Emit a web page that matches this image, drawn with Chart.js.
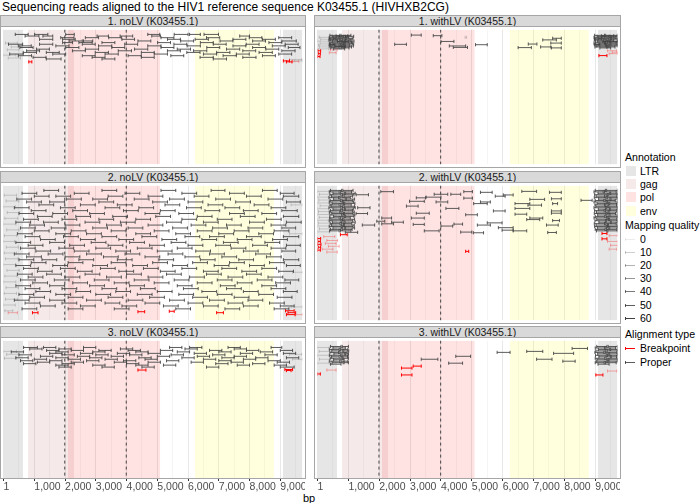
<!DOCTYPE html>
<html>
<head>
<meta charset="utf-8">
<script src="https://cdn.jsdelivr.net/npm/chart.js@4.4.1/dist/chart.umd.min.js"></script>
<style>
  body { margin: 0; width: 700px; height: 503px; position: relative; overflow: hidden; background: #fff;
         font-family: "Liberation Sans", Arial, sans-serif; }
  .abs { position: absolute; white-space: nowrap; }
  .strip { position: absolute; background: #d9d9d9; border: 1px solid #a6a6a6; box-sizing: border-box;
           font-size: 10.5px; line-height: 10px; text-align: center; color: #1a1a1a; }
  .frame { position: absolute; border: 1px solid #a6a6a6; box-sizing: border-box; pointer-events: none; }
  canvas { position: absolute; }
</style>
</head>
<body>
<div class="abs" style="left:2px;top:0px;font-size:12px;line-height:15px;color:#000">Sequencing reads aligned to the HIV1 reference sequence K03455.1 (HIVHXB2CG)</div>
<div class="abs" style="left:303px;top:491px;font-size:11px;line-height:14px;color:#000">bp</div>
<div id="legend"></div>
<script>
// ---- data ----
const panelNames = ["1. noLV (K03455.1)", "1. withLV (K03455.1)", "2. noLV (K03455.1)",
                    "2. withLV (K03455.1)", "3. noLV (K03455.1)", "3. withLV (K03455.1)"];
const xTickValues = [1, 1000, 2000, 3000, 4000, 5000, 6000, 7000, 8000, 9000];
const xTickLabels = ["1", "1,000", "2,000", "3,000", "4,000", "5,000", "6,000", "7,000", "8,000", "9,000"];
const xMinorValues = [500, 1500, 2500, 3500, 4500, 5500, 6500, 7500, 8500, 9500];
const annoNames = ["LTR", "gag", "pol", "env", "LTR"];
const annoStart = [1, 790, 2085, 6225, 9086];
const annoEnd = [634, 2292, 5096, 8795, 9719];
const markerPos = [1990, 3990];
const mqLevels = [0, 10, 20, 30, 40, 50, 60];
const alignTypes = ["Breakpoint", "Proper"];

// reads: [row, start1, end1, start2, end2, ...]
const noLV1 = [
  [5, 380,800, 1010,1440, 2020,2300, 4690,5080, 5550,6000, 6050,6400, 6520,6990],
  [6.7, 700,1150, 1280,1600, 3040,3410, 3790,4200, 4820,5100, 7680,8000],
  [8.4, 1860,2290, 2660,3090, 3420,3830, 5120,5540, 6600,7030, 7990,8400, 8950,9370],
  [10.1, 1170,1600, 1920,2330, 3850,4260, 5330,5750, 6230,6660, 7460,7880, 8420,8840],
  [11.8, 2130,2560, 2600,2900, 4370,4790, 5760,6180, 7040,7460, 8100,8520, 9050,9520],
  [13.5, 1920,2240, 2450,2880, 3200,3620, 5010,5430, 6400,6820, 8630,9050],
  [15.2, 160,620, 1170,1600, 2560,2980, 3940,4360, 5540,5960, 6820,7240, 7890,8310, 9160,9580],
  [16.9, 480,900, 1700,2130, 3090,3520, 4690,5120, 5970,6400, 7460,7880, 8740,9160],
  [18.6, 530,960, 2020,2450, 3520,3940, 5120,5540, 6610,7030, 8100,8520, 9260,9640],
  [20.3, 1070,1490, 2660,3090, 4260,4690, 5650,6080, 7250,7680, 8530,8950],
  [22, 750,1170, 2240,2660, 3730,4160, 5330,5750, 6180,6610, 7780,8200, 9050,9480],
  [23.7, 640,1070, 1390,1810, 2980,3410, 4480,4900, 5960,6390, 6930,7360, 8310,8740],
  [25.4, 200,640, 1600,2020, 3300,3730, 4900,5330, 6500,6930, 7570,7990, 8950,9370],
  [27.1, 480,910, 2560,2980, 4050,4480, 5440,5860, 7140,7570, 8420,8840],
  [28.8, 960,1380, 2880,3300, 4480,4900, 6390,6820, 7780,8210],
  [30.5, 1390,1870, 3200,3620, 6820,7250]
];
const noLV1Low = [[14, 60,450], [18, 250,600], [21, 120,500], [26.5, 0,400], [29.5, 150,550],
                  [31, 9300,9700], [32.5, 9450,9719]];
const noLV1Break = [[33.5, 820,920], [32.5, 9100,9300], [33.5, 9200,9380]];
const noLV1LowBreak = [[33, 9400,9600]];

const withLV1 = [
  [6, 400,720, 760,1080], [6.5, 600,980], [7, 470,850, 900,1170], [8, 380,690, 720,1010],
  [9, 520,900, 930,1150], [9.5, 380,600], [10, 410,760, 800,1120], [11, 370,640, 700,1060],
  [12, 480,880, 910,1180], [12.5, 650,1000], [13, 430,730, 780,1100], [14, 390,820, 850,1130],
  [15, 500,860, 890,1170], [15.5, 380,560], [16, 420,700, 740,1040], [17, 380,780, 820,1160],
  [17.5, 560,900], [18, 460,830, 870,1100], [19, 410,700, 760,1020], [20, 520,880],
  [5.7, 3040,3360], [6.3, 3750,4030], [15.3, 2500,2880], [12.3, 4000,4420], [17, 4270,4800],
  [18.5, 4400,4860], [15.7, 5120,5500], [10.7, 7300,7740], [9, 7620,7900], [14, 7560,7900],
  [15, 6830,7110], [18.7, 6500,6930], [18, 7230,7560], [19, 7580,7900],
  [6, 8980,9300, 9340,9719], [6.5, 9200,9600], [7, 9060,9450, 9480,9700], [8, 8960,9250, 9290,9650],
  [9, 9100,9500, 9530,9719], [9.5, 8980,9200], [10, 9000,9380, 9420,9719], [11, 8970,9280, 9320,9600],
  [12, 9080,9460, 9500,9719], [12.5, 9250,9719], [13, 9010,9350, 9400,9719], [14, 8960,9300, 9330,9680],
  [15, 9120,9480, 9510,9719], [15.5, 8970,9150], [16, 9000,9330, 9370,9719], [17, 9050,9420, 9450,9719],
  [18, 8990,9360, 9390,9640], [19, 9150,9500]
];
const withLV1Low = [[8, 50,380], [10, 100,400], [12, 0,350], [14, 80,400], [16, 30,370], [18, 60,420],
                    [20, 0,360], [8, 4780,4830]];
const withLV1Break = [[22, 10,100], [25, 20,90], [28, 0,80], [27, 9120,9380]];
const withLV1LowBreak = [[21, 420,640], [24, 380,600], [22, 9400,9700], [25, 9450,9719], [23.5, 9550,9719]];

const noLV2 = [
  [5, 1310,1790, 3200,3680, 5120,5600, 6750,7200, 8420,8900],
  [8, 600,1080, 2300,2780, 3950,4430, 5800,6280, 7350,7830, 9000,9450],
  [11, 1000,1480, 1700,2180, 3400,3880, 4700,5180, 6200,6680, 7900,8380, 9100,9600],
  [14, 430,910, 2050,2530, 2900,3380, 4250,4730, 5400,5880, 6900,7380, 8600,9080],
  [17, 750,1230, 1500,1980, 3100,3580, 4850,5330, 6000,6480, 7550,8030, 9200,9650],
  [20, 1150,1630, 2500,2980, 3700,4180, 5250,5730, 6650,7130, 8150,8630],
  [23, 350,830, 1850,2330, 3300,3780, 4400,4880, 5950,6430, 7200,7680, 8700,9180],
  [26, 900,1380, 2250,2730, 3900,4380, 5100,5580, 6550,7030, 7800,8280, 9050,9550],
  [29, 500,980, 1600,2080, 2800,3280, 4600,5080, 5700,6180, 7350,7830, 8400,8880],
  [32, 1100,1580, 2350,2830, 3550,4030, 4950,5430, 6300,6780, 7700,8180, 9100,9600],
  [35, 650,1130, 1900,2380, 3100,3580, 4300,4780, 5800,6280, 6950,7430, 8550,9030],
  [38, 400,880, 1300,1780, 2650,3130, 3800,4280, 5300,5780, 6500,6980, 8000,8480, 9200,9680],
  [41, 850,1330, 2000,2480, 3350,3830, 4700,5180, 6100,6580, 7250,7730, 8700,9180],
  [44, 550,1030, 1550,2030, 2900,3380, 4050,4530, 5500,5980, 6800,7280, 7950,8430, 9050,9500],
  [47, 1000,1480, 2200,2680, 3500,3980, 4900,5380, 6300,6780, 7500,7980, 8800,9280],
  [50, 450,930, 1700,2180, 2700,3180, 4300,4780, 5600,6080, 7000,7480, 8300,8780],
  [53, 700,1180, 1950,2430, 3200,3680, 4500,4980, 5900,6380, 6700,7180, 7900,8380, 9100,9600],
  [56, 1200,1680, 2500,2980, 3750,4230, 5150,5630, 6450,6930, 7600,8080, 8750,9230],
  [59, 400,880, 1500,1980, 2850,3330, 4100,4580, 5450,5930, 7150,7630, 8500,8980],
  [62, 800,1280, 2150,2630, 3400,3880, 4750,5230, 6000,6480, 6900,7380, 8100,8580, 9200,9650],
  [65, 550,1030, 1800,2280, 3000,3480, 4350,4830, 5650,6130, 7400,7880, 8700,9180],
  [68, 1050,1530, 2300,2780, 3650,4130, 5000,5480, 6250,6730, 7800,8280, 9050,9500],
  [71, 350,830, 1450,1930, 2700,3180, 3950,4430, 5350,5830, 6700,7180, 8200,8680],
  [74, 750,1230, 2000,2480, 3250,3730, 4600,5080, 5900,6380, 7100,7580, 8550,9030],
  [77, 500,980, 1250,1730, 2450,2930, 3700,4180, 5050,5530, 6400,6880, 7650,8130, 9100,9600],
  [80, 900,1380, 2100,2580, 3500,3980, 4850,5330, 6150,6630, 7350,7830, 8650,9130],
  [83, 400,880, 1600,2080, 2900,3380, 4200,4680, 5500,5980, 6850,7330, 8000,8480, 9200,9650],
  [86, 650,1130, 1850,2330, 3150,3630, 4550,5030, 5800,6280, 7100,7580, 8400,8880],
  [89, 1100,1580, 2400,2880, 3750,4230, 5100,5580, 6500,6980, 7750,8230, 8950,9430],
  [92, 450,930, 1400,1880, 2650,3130, 4000,4480, 5300,5780, 6600,7080, 7900,8380],
  [95, 800,1280, 2000,2480, 3350,3830, 4700,5180, 6050,6530, 7300,7780, 8600,9080],
  [98, 550,1030, 1650,2130, 2950,3430, 4250,4730, 5550,6030, 6950,7430, 8250,8730, 9150,9600],
  [101, 950,1430, 2250,2730, 3600,4080, 4900,5380, 6300,6780, 7600,8080, 8850,9330],
  [104, 400,880, 1500,1980, 2800,3280, 4100,4580, 5650,6130, 7050,7530, 8400,8880],
  [107, 700,1180, 1900,2380, 3200,3680, 4450,4930, 5850,6330, 7250,7730, 8700,9180],
  [110, 1050,1530, 2350,2830, 3650,4130, 5000,5480, 6450,6930, 7800,8280, 9100,9550],
  [113, 500,980, 1700,2180, 3000,3480, 4350,4830, 5700,6180, 6950,7430, 8300,8780],
  [116, 850,1330, 2100,2580, 3400,3880, 4750,5230, 6150,6630, 7500,7980, 8900,9380],
  [119, 350,830, 1500,1980, 2700,3180, 4050,4530, 5400,5880, 6700,7180, 7950,8430],
  [122, 700,1180, 1900,2380, 3300,3780, 4600,5080, 6000,6480, 7300,7780, 8650,9130],
  [125, 1200,1680, 2500,2980, 3850,4330, 5200,5680, 6500,6980, 7800,8280, 9000,9450],
  [128, 600,1080, 2100,2580, 3600,4080, 5600,6080, 7200,7680, 8800,9280]
];
const noLV2Low = [[10, 20,420], [16, 80,500], [22, 0,380], [28, 120,520], [34, 40,460], [40, 0,400],
                  [46, 100,500], [52, 30,430], [58, 0,360], [64, 90,480], [70, 20,420], [76, 60,470],
                  [82, 0,390], [88, 110,510], [94, 40,440], [100, 0,400], [106, 80,480], [112, 20,420],
                  [118, 60,460], [124, 0,380], [130, 40,300], [20, 9350,9719], [50, 9300,9719],
                  [90, 9400,9719], [126, 9350,9719]];
const noLV2Break = [[132, 940,1120], [131, 4370,4590], [130.5, 5390,5550], [132, 6930,7150],
                    [130, 9170,9450], [132, 9250,9500], [134, 9200,9480]];
const noLV2LowBreak = [[132, 150,450], [134, 9500,9719]];

const withLV2 = [
  [5, 420,780, 820,1150], [6.5, 380,700, 740,1100], [8, 500,880, 910,1220], [9.5, 400,760, 800,1180, 1250,1650],
  [11, 450,820, 860,1130], [12.5, 370,680, 720,1060], [14, 520,900, 940,1200], [15.5, 410,740, 790,1140],
  [17, 380,800, 830,1170], [18.5, 470,850, 880,1210], [20, 400,700, 750,1090], [21.5, 440,820, 860,1200],
  [23, 370,760, 800,1220, 1300,1700], [24.5, 500,870, 900,1160], [26, 420,750, 800,1130], [27.5, 380,720, 760,1190],
  [29, 460,840, 870,1150, 1250,1620], [30.5, 400,780, 820,1210], [32, 520,880, 910,1180], [33.5, 390,700, 740,1060],
  [35, 430,810, 850,1200], [36.5, 380,760, 790,1140], [38, 480,860, 890,1220], [39.5, 410,730, 770,1110],
  [41, 450,840, 870,1190, 1450,1850], [42.5, 380,770, 800,1150], [44, 500,880, 910,1200], [45.5, 420,760, 800,1120],
  [47, 390,700, 740,1080], [48.5, 900,1300],
  [6.3, 2050,2460, 4740,5020], [12, 3520,4000], [9, 3780,4220, 4320,4640], [13, 4740,5020],
  [12.7, 3200,3500], [16.3, 2980,3460], [17, 3840,4220, 5280,5600], [23.7, 4160,4580, 6400,6880],
  [21.3, 2880,3260], [30.3, 4800,5180], [28.7, 3200,3620, 7580,7900], [33.7, 2080,2400, 3040,3460, 6880,7300],
  [37, 1920,2180], [39.7, 2080,2460], [38, 2400,2780], [40.3, 3100,3460], [42, 4000,4380],
  [40, 4420,4700], [47, 3460,3940, 6340,6780], [48.3, 4640,5000], [49, 5050,5380], [7, 5280,5660, 7520,7900],
  [18.7, 5060,5500, 6400,6880, 7620,7780], [38.7, 5500,5980], [41, 5180,5600, 7420,7800], [26.3, 5700,6080, 7580,7900],
  [43.7, 5860,6340], [46.3, 5980,6340], [11, 5760,6080], [9.7, 6020,6340], [6, 6620,7100],
  [29.7, 6400,6780], [35.3, 6780,7200], [14.3, 6880,7360], [20.3, 6820,7260], [13.7, 7580,7900],
  [36.3, 7620,7840], [48.7, 7460,7740], [15.3, 8540,8900],
  [5, 9000,9330, 9370,9719], [6.5, 8960,9260, 9300,9680], [8, 9090,9470, 9500,9719], [9.5, 8980,9390, 9420,9719],
  [11, 9030,9300, 9350,9700], [12.5, 8970,9350, 9390,9719], [14, 9110,9480, 9510,9719], [15.5, 9000,9280, 9320,9650],
  [17, 8960,9360, 9400,9719], [18.5, 9060,9440, 9470,9719], [20, 8990,9300, 9340,9690], [21.5, 9020,9410, 9440,9719],
  [23, 8960,9330, 9370,9719], [24.5, 9100,9460, 9490,9719], [26, 8980,9290, 9330,9700], [27.5, 9040,9420, 9450,9719],
  [29, 8970,9350, 9380,9660], [30.5, 9080,9450, 9480,9719], [32, 9000,9310, 9350,9719], [33.5, 8960,9380, 9410,9719],
  [35, 9050,9430, 9460,9700], [36.5, 8990,9330, 9360,9719], [38, 9120,9490, 9520,9719], [39.5, 8970,9300, 9340,9680],
  [41, 9030,9400, 9430,9719], [42.5, 8980,9360, 9390,9719], [44, 9070,9440, 9470,9719], [45.5, 9000,9320, 9360,9700],
  [47, 9040,9380, 9410,9719]
];
const withLV2Low = [[6, 0,380], [9, 60,400], [12, 0,350], [15, 40,400], [18, 0,370], [21, 80,420],
                    [24, 0,360], [27, 30,390], [30, 0,380], [33, 50,410], [36, 0,350], [39, 20,400],
                    [42, 0,370], [45, 60,420], [48, 0,380]];
const withLV2Break = [[51, 740,960], [55, 0,100], [58, 10,90], [61, 0,110], [64, 20,100], [67, 0,90],
                      [68.3, 4800,4900], [49.7, 9220,9380], [55.3, 9220,9380]];
const withLV2LowBreak = [[53, 200,560], [57, 300,650], [60, 250,600], [63, 350,700], [66, 150,500],
                         [69, 300,640], [52, 9450,9719], [58, 9400,9719], [62, 9500,9719], [66, 9450,9700]];

const noLV3 = [
  [7, 650,1100, 1300,1700, 2600,3000, 5400,5800, 6050,6450, 7300,7700, 8700,9050],
  [8.5, 850,1250, 1800,2200, 3800,4200, 5900,6300, 7500,7900],
  [10, 1400,1800, 2200,2600, 3100,3500, 4050,4450, 5100,5500, 6700,7100, 7900,8300, 9000,9400],
  [11.5, 250,650, 1700,2100, 2900,3300, 4300,4700, 5650,6050, 7000,7400, 8350,8750],
  [13, 1500,1900, 2500,2900, 3700,4100, 4700,5100, 6200,6600, 7700,8100, 9100,9500],
  [14.5, 500,900, 1900,2300, 3000,3400, 4100,4500, 5450,5850, 6800,7200, 8500,8900],
  [16, 1200,1600, 2400,2800, 3500,3900, 5000,5400, 6300,6700, 7500,7900],
  [17.5, 400,800, 1700,2100, 2800,3200, 4400,4800, 5800,6200, 7100,7500, 8200,8600, 9200,9600],
  [19, 1000,1400, 2100,2500, 3300,3700, 4600,5000, 6500,6900, 7800,8200],
  [20.5, 550,950, 1500,1900, 2700,3100, 3900,4300, 5300,5700, 7000,7400, 8600,9000],
  [22, 1100,1500, 2200,2600, 3600,4000, 4700,5100, 6100,6500, 7400,7800, 8900,9300],
  [23.5, 650,1050, 1900,2300, 4000,4400, 6900,7300, 8100,8500],
  [25, 1700,2100, 2900,3300, 4300,4700, 5200,5600, 7600,8000, 8800,9200],
  [27, 1800,2200, 3200,3600, 4500,4900, 6600,7000, 9000,9450]
];
const noLV3Low = [[11, 0,420], [14, 100,500], [18, 30,400], [14, 9300,9700], [19, 9400,9719]];
const noLV3Break = [[30, 4370,4630], [29.5, 9150,9400], [30.5, 9200,9350]];
const noLV3LowBreak = [];

const withLV3 = [
  [6, 420,760, 800,1000], [7.5, 500,900], [9, 380,700, 740,980], [10.5, 460,820, 850,1010],
  [12, 400,680, 720,960], [13.5, 530,880, 910,1000], [15, 390,750, 790,990], [16.5, 450,700, 760,970],
  [18, 410,800, 830,1000], [19.5, 520,860], [21, 380,720, 760,980], [22.5, 470,830, 860,1000], [24, 420,760],
  [19, 3360,3900], [16, 4480,4960], [23, 4250,4700], [12, 5820,6240], [11, 6780,7300],
  [19, 7100,7600], [13, 7650,8300], [21, 7950,8350], [8, 8250,8750],
  [6, 9050,9380, 9420,9719], [7.5, 9000,9300, 9340,9660], [9, 9100,9470, 9500,9719], [10.5, 9020,9350, 9390,9719],
  [12, 8990,9280, 9320,9700], [13.5, 9080,9440, 9470,9719], [15, 9010,9360, 9400,9719], [16.5, 9120,9490, 9520,9690],
  [18, 9000,9310, 9350,9719], [19.5, 9060,9420, 9450,9719], [21, 9030,9380, 9410,9719], [22.5, 9000,9290, 9330,9680],
  [24, 9090,9450]
];
const withLV3Low = [[7, 0,380], [11, 50,400], [15, 0,360], [19, 60,400], [23, 0,380]];
const withLV3Break = [[34, 0,90], [28, 2720,3060], [35, 2720,3060], [26, 3100,3360], [35, 9020,9250]];
const withLV3LowBreak = [[30, 300,600], [31, 9400,9700]];

// ---- drawing ----
const panelReads = [noLV1, withLV1, noLV2, withLV2, noLV3, withLV3];
const panelLow = [noLV1Low, withLV1Low, noLV2Low, withLV2Low, noLV3Low, withLV3Low];
const panelBreak = [noLV1Break, withLV1Break, noLV2Break, withLV2Break, noLV3Break, withLV3Break];
const panelLowBreak = [noLV1LowBreak, withLV1LowBreak, noLV2LowBreak, withLV2LowBreak, noLV3LowBreak, withLV3LowBreak];

const annoColors = {LTR: "rgba(128,128,128,0.2)", gag: "rgba(165,42,42,0.1)",
                    pol: "rgba(255,0,0,0.11)", env: "rgba(255,255,0,0.13)"};
const mqColor = a => "rgba(64,64,64," + a + ")";
const mqAlpha = [0.1, 0.25, 0.4, 0.55, 0.7, 0.85, 1];

const colLeft = [1, 315];
const colWidth = [304, 305];
const rowTop = [27, 183, 338];
const plotH = 140;
const FONT = '"Liberation Sans", Arial, sans-serif';

function toPoints(rows) {
  const pts = [];
  for (const r of rows) {
    for (let i = 1; i + 1 < r.length; i += 2) {
      pts.push({x: r[i], y: r[0]}, {x: r[i + 1], y: r[0]}, {x: null, y: null});
    }
  }
  return pts;
}

function readSet(rows, color, order) {
  return {
    data: toPoints(rows), borderColor: color, borderWidth: 1,
    pointStyle: "line", pointRotation: 90, pointRadius: 1.6,
    pointBorderColor: color, pointBorderWidth: 1, pointHoverRadius: 0, order: order
  };
}

panelNames.forEach((name, i) => {
  const col = i % 2, row = Math.floor(i / 2);
  const bottom = row === 2;
  const left = colLeft[col], w = colWidth[col], top = rowTop[row];

  const strip = document.createElement("div");
  strip.className = "strip";
  strip.style.cssText = `left:${left - 1}px;top:${top - 12}px;width:${w + 2}px;height:12px;`;
  strip.textContent = name;
  document.body.appendChild(strip);

  const cv = document.createElement("canvas");
  const h = plotH + (bottom ? 16 : 0);
  cv.width = w; cv.height = h;
  cv.style.cssText = `left:${left}px;top:${top}px;width:${w}px;height:${h}px;`;
  document.body.appendChild(cv);

  const frame = document.createElement("div");
  frame.className = "frame";
  frame.style.cssText = `left:${left - 1}px;top:${top - 1}px;width:${w + 2}px;height:${plotH + 2}px;`;
  document.body.appendChild(frame);

  const datasets = [];
  datasets.push(readSet(panelReads[i], mqColor(0.85), 0));
  datasets.push(readSet(panelBreak[i], "#ff0000", 1));
  datasets.push(readSet(panelLow[i], mqColor(0.22), 2));
  datasets.push(readSet(panelLowBreak[i], "rgba(255,0,0,0.3)", 2));
  const dash = [];
  markerPos.forEach(p => dash.push({x: p, y: 0}, {x: p, y: plotH}, {x: null, y: null}));
  datasets.push({data: dash, borderColor: "#333333", borderWidth: 0.9, borderDash: [3, 3],
                 pointRadius: 0, order: 5});
  annoNames.forEach((a, k) => {
    datasets.push({data: [{x: annoStart[k], y: plotH}, {x: annoEnd[k], y: plotH}],
                   fill: {value: 0}, backgroundColor: annoColors[a], borderWidth: 0,
                   pointRadius: 0, order: 10});
  });

  const gridVals = xTickValues.concat(xMinorValues).sort((a, b) => a - b);
  const isMajor = v => xTickValues.indexOf(v) >= 0;

  new Chart(cv, {
    type: "line",
    data: {datasets: datasets},
    options: {
      responsive: false, animation: false, events: [],
      layout: {padding: 0},
      plugins: {legend: {display: false}, tooltip: {enabled: false}},
      scales: {
        x: {
          type: "linear", min: 1, max: 9719,
          afterBuildTicks: s => { s.ticks = gridVals.map(v => ({value: v})); },
          afterFit: s => { s.height = bottom ? 16 : 0; },
          border: {display: false},
          grid: {
            color: c => isMajor(c.tick.value) ? "#e8e8e8" : "#f0f0f0",
            lineWidth: c => isMajor(c.tick.value) ? 1 : 0.7,
            drawTicks: bottom, tickLength: 3,
            tickColor: c => isMajor(c.tick.value) ? "#333333" : "rgba(0,0,0,0)"
          },
          ticks: {
            display: bottom, align: "start", autoSkip: false, maxRotation: 0, minRotation: 0,
            padding: 0, color: "#4d4d4d", font: {size: 10.5, family: FONT},
            callback: v => { const k = xTickValues.indexOf(v); return k >= 0 ? xTickLabels[k] : ""; }
          }
        },
        y: {display: false, min: 0, max: plotH, reverse: true}
      }
    }
  });
});

// ---- legend ----
const lg = document.getElementById("legend");
function txt(s, x, cy, size) {
  const d = document.createElement("div");
  d.className = "abs";
  d.style.cssText = `left:${x}px;top:${cy - 7}px;font-size:${size}px;line-height:14px;color:#000;`;
  d.textContent = s;
  lg.appendChild(d);
}
function box(x, y, w, h, css) {
  const d = document.createElement("div");
  d.className = "abs";
  d.style.cssText = `left:${x}px;top:${y}px;width:${w}px;height:${h}px;${css}`;
  lg.appendChild(d);
}
function lineKey(cy, color) {
  box(625, Math.round(cy), 10, 0, `border-top:1px solid ${color};`);
  box(625, Math.round(cy) - 1, 0, 3, `border-left:1px solid ${color};`);
}
txt("Annotation", 625, 157, 10.6);
["LTR", "gag", "pol", "env"].forEach((a, k) => {
  const cy = 170.5 + k * 13.4;
  box(626, cy - 5, 10, 10, `background:${annoColors[a]};`);
  txt(a, 640, cy, 10.5);
});
txt("Mapping quality", 625, 224.5, 10.6);
mqLevels.forEach((m, k) => {
  const cy = 238.8 + k * 13.15;
  lineKey(cy, mqColor(mqAlpha[k]));
  txt(String(m), 640, cy, 10.5);
});
txt("Alignment type", 625, 334, 10.6);
alignTypes.forEach((a, k) => {
  const cy = 347.8 + k * 14;
  lineKey(cy, a === "Breakpoint" ? "#ff0000" : mqColor(0.85));
  txt(a, 640, cy, 10.5);
});
</script>
</body>
</html>
